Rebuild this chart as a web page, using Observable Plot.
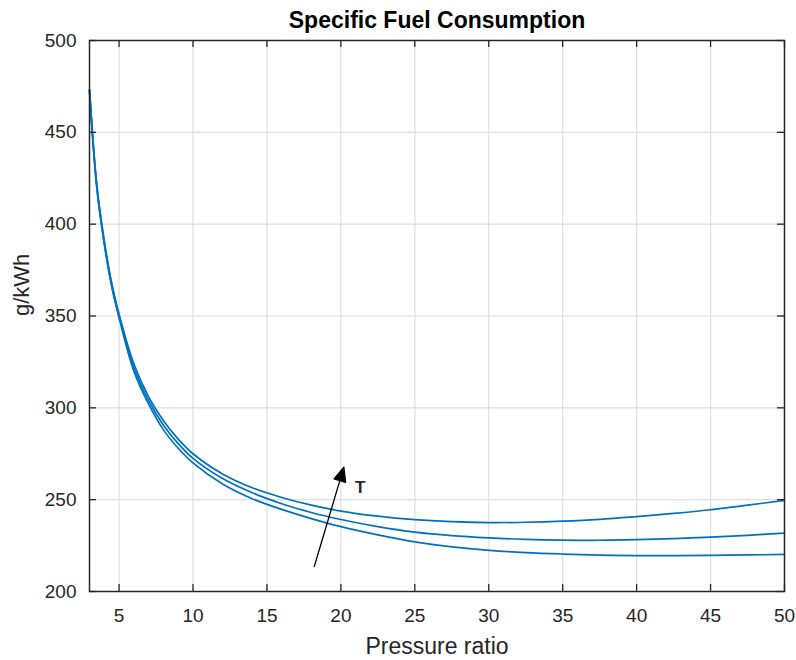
<!DOCTYPE html>
<html><head><meta charset="utf-8">
<script src="https://cdn.jsdelivr.net/npm/d3@7"></script>
<script src="https://cdn.jsdelivr.net/npm/@observablehq/plot@0.6"></script>
<style>body{margin:0;background:#fff}</style>
</head><body><div id="chart"></div>
<script>
// Data
const pressureRatio = [3,3.5,4,4.5,5,6,7,8,9,10,12,14,16,18,20,22.5,25,27.5,30,32.5,35,37.5,40,42.5,45,47.5,50];
const sfcHighT = [473,421,391,368,351,324,306,293,283,275,264,256.5,251.2,247,243.8,241,239.1,238,237.5,237.7,238.3,239.3,240.8,242.5,244.5,247,249.6];
const sfcMidT  = [473,420,390,367,350,322,304,290.5,280.5,272.5,261.5,253.8,247.8,243,239.2,235.3,232.3,230.4,229.2,228.4,228,227.9,228.2,228.8,229.6,230.6,231.8];
const sfcLowT  = [473,419,389,366,349,320,302,288,278,270,258.5,250.5,244.7,239.7,235.3,230.8,227,224.3,222.4,221.2,220.4,219.8,219.5,219.5,219.7,219.9,220.2];
const seriesNames = ["High T","Mid T","Low T"];
const xTicks = [5,10,15,20,25,30,35,40,45,50];
const yTicks = [200,250,300,350,400,450,500];
const xDomain = [3,50];
const yDomain = [200,500];
const arrowFrom = [18.2,213.6];
const arrowTo = [20.2,267.7];
const arrowLabel = ["T"];
const arrowLabelPos = [21.3,256.8];
const titleText = "Specific Fuel Consumption";
const xLabel = "Pressure ratio";
const yLabel = "g/kWh";

const W = 796, H = 660, mL = 89, mR = 12, mT = 40, mB = 69;
const innerW = W - mL - mR, innerH = H - mT - mB;

const rows = [];
[sfcHighT, sfcMidT, sfcLowT].forEach((arr, i) => arr.forEach((v, j) => rows.push({series: seriesNames[i], x: pressureRatio[j], y: v})));

// arrow geometry in pixels via scale factors
const kx = innerW / (xDomain[1]-xDomain[0]);
const ky = innerH / (yDomain[1]-yDomain[0]);
const dxp = (arrowTo[0]-arrowFrom[0])*kx, dyp = (arrowTo[1]-arrowFrom[1])*ky;
const arrowLen = Math.hypot(dxp, dyp);
const arrowAngle = Math.atan2(dxp, dyp) * 180 / Math.PI;
const headL = 14, headW = 6;
const arrowShape = {
  draw(context, l) {
    context.moveTo(0, 0);
    context.lineTo(0, -(l - headL + 2));
    context.moveTo(0, -l);
    context.lineTo(-headW, -l + headL);
    context.lineTo(headW, -l + headL);
    context.closePath();
  }
};

const tickLen = 7;
const ink = "#262626";
const font = "'Liberation Sans', Arial, Helvetica, sans-serif";

const plot = Plot.plot({
  width: W, height: H,
  marginLeft: mL, marginRight: mR, marginTop: mT, marginBottom: mB,
  style: {fontFamily: font, background: "#fff", overflow: "visible"},
  x: {domain: xDomain, axis: null},
  y: {domain: yDomain, axis: null},
  marks: [
    Plot.gridX(xTicks, {stroke: "#dedede", strokeOpacity: 1, strokeWidth: 1.2}),
    Plot.gridY(yTicks, {stroke: "#dedede", strokeOpacity: 1, strokeWidth: 1.2}),
    Plot.lineY(rows, {x: "x", y: "y", z: "series", stroke: "#0072BD", strokeWidth: 1.7, curve: "catmull-rom"}),
    // inward ticks on all four sides
    Plot.tickX(xTicks, {x: d => d, insetTop: innerH - tickLen, stroke: ink, strokeWidth: 1.3}),
    Plot.tickX(xTicks, {x: d => d, insetBottom: innerH - tickLen, stroke: ink, strokeWidth: 1.3}),
    Plot.tickY(yTicks, {y: d => d, insetRight: innerW - tickLen, stroke: ink, strokeWidth: 1.3}),
    Plot.tickY(yTicks, {y: d => d, insetLeft: innerW - tickLen, stroke: ink, strokeWidth: 1.3}),
    Plot.frame({stroke: ink, strokeWidth: 1.5}),
    // tick labels
    Plot.text(xTicks, {x: d => d, frameAnchor: "bottom", lineAnchor: "middle", dy: 24, text: d => String(d), fontSize: 19, fill: ink}),
    Plot.text(yTicks, {y: d => d, frameAnchor: "left", textAnchor: "end", dx: -13, text: d => String(d), fontSize: 19, fill: ink}),
    // axis labels and title
    Plot.text([xLabel], {frameAnchor: "bottom", lineAnchor: "middle", dy: 55, text: d => d, fontSize: 23, fill: ink}),
    Plot.text([yLabel], {frameAnchor: "left", rotate: -90, lineAnchor: "middle", dx: -68, text: d => d, fontSize: 22, fill: ink}),
    Plot.text([titleText], {frameAnchor: "top", lineAnchor: "bottom", dy: -13, text: d => d, fontSize: 23, fontWeight: "bold", fill: "#000"}),
    // arrow annotation
    Plot.vector([arrowFrom], {x: d => d[0], y: d => d[1], length: arrowLen, rotate: arrowAngle, anchor: "start", shape: arrowShape, stroke: "#000", fill: "#000", strokeWidth: 1.3}),
    Plot.text(arrowLabel, {x: arrowLabelPos[0], y: arrowLabelPos[1], text: d => d, fontSize: 17, fontWeight: "bold", fill: ink})
  ]
});
document.getElementById("chart").appendChild(plot);
</script>
</body></html>
